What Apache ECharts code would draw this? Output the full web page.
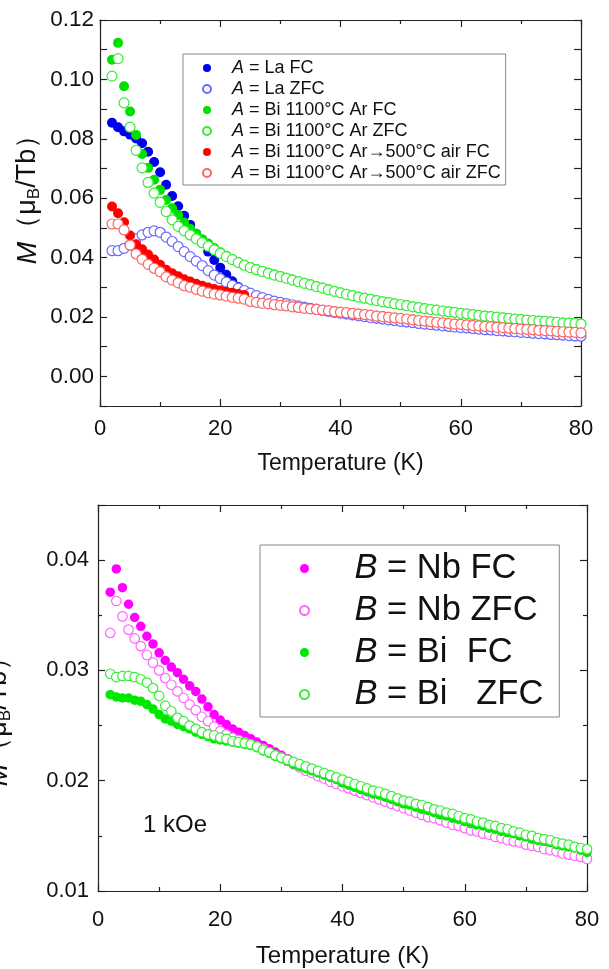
<!DOCTYPE html>
<html><head><meta charset="utf-8">
<script src="https://cdn.jsdelivr.net/npm/echarts@6/dist/echarts.min.js"></script>
<style>html,body{margin:0;padding:0;background:#fff}#c{width:609px;height:969px}</style>
</head><body><div id="c"></div>
<script>
// Temperature (K)
const temps = [2,3,4,5,6,7,8,9,10,11,12,13,14,15,16,17,18,19,20,21,22,23,24,25,26,27,28,29,30,31,32,33,34,35,36,37,38,39,40,41,42,43,44,45,46,47,48,49,50,51,52,53,54,55,56,57,58,59,60,61,62,63,64,65,66,67,68,69,70,71,72,73,74,75,76,77,78,79,80];

// Top panel: M (muB/Tb), A-site series
const laFC = [
.0854,.0839,.0825,.0814,.0801,.0785,.0756,.0722,.0687,.0645,
.0607,.0573,.0541,.0510,.0480,.0450,.0420,.0392,.0366,.0342,
.0320,.0301,.0288,.0279,.0271,.0264,.0258,.0253,.0248,.0244,
.0240,.0236,.0232,.0228,.0225,.0221,.0218,.0215,.0212,.0209,
.0206,.0203,.0200,.0197,.0195,.0192,.0190,.0187,.0185,.0182,
.0180,.0178,.0176,.0174,.0172,.0170,.0168,.0166,.0164,.0162,
.0160,.0159,.0157,.0155,.0154,.0152,.0151,.0149,.0148,.0146,
.0145,.0144,.0142,.0141,.0140,.0138,.0137,.0135,.0134];
const laZFC = [
.0423,.0423,.0431,.0442,.0463,.0476,.0485,.0490,.0485,.0469,
.0454,.0437,.0420,.0403,.0388,.0373,.0356,.0341,.0329,.0317,
.0306,.0297,.0289,.0280,.0272,.0265,.0259,.0253,.0249,.0245,
.0241,.0237,.0233,.0229,.0226,.0222,.0219,.0216,.0213,.0210,
.0207,.0204,.0201,.0198,.0196,.0193,.0190,.0188,.0185,.0183,
.0181,.0178,.0176,.0174,.0172,.0170,.0168,.0166,.0164,.0163,
.0161,.0159,.0157,.0156,.0154,.0153,.0151,.0150,.0148,.0147,
.0145,.0144,.0143,.0141,.0140,.0139,.0137,.0136,.0135];
const biArFC = [
.1066,.1123,.0977,.0892,.0813,.0749,.0702,.0662,.0628,.0594,
.0566,.0543,.0518,.0497,.0479,.0462,.0447,.0432,.0418,.0406,
.0395,.0385,.0376,.0368,.0361,.0355,.0349,.0343,.0338,.0332,
.0326,.0320,.0315,.0310,.0304,.0298,.0293,.0287,.0282,.0277,
.0273,.0268,.0264,.0260,.0256,.0252,.0249,.0245,.0242,.0239,
.0235,.0232,.0229,.0226,.0224,.0221,.0218,.0216,.0213,.0211,
.0209,.0206,.0204,.0202,.0200,.0198,.0196,.0194,.0192,.0190,
.0189,.0187,.0186,.0184,.0183,.0181,.0180,.0178,.0177];
const biArZFC = [
.1011,.1070,.0921,.0839,.0761,.0702,.0653,.0617,.0586,.0555,
.0527,.0505,.0490,.0476,.0463,.0450,.0438,.0426,.0414,.0403,
.0393,.0383,.0374,.0366,.0359,.0353,.0347,.0341,.0336,.0330,
.0324,.0319,.0313,.0308,.0302,.0297,.0291,.0286,.0281,.0276,
.0272,.0267,.0263,.0259,.0255,.0251,.0248,.0244,.0241,.0238,
.0234,.0231,.0228,.0225,.0223,.0220,.0217,.0215,.0212,.0210,
.0208,.0205,.0203,.0201,.0199,.0197,.0195,.0193,.0191,.0189,
.0188,.0186,.0185,.0183,.0182,.0180,.0179,.0178,.0176];
const biAirFC = [
.0572,.0549,.0519,.0474,.0445,.0428,.0410,.0393,.0376,.0359,
.0347,.0337,.0327,.0319,.0312,.0305,.0299,.0294,.0289,.0285,
.0281,.0277,.0274,.0252,.0249,.0247,.0244,.0242,.0240,.0237,
.0235,.0232,.0230,.0228,.0225,.0223,.0221,.0219,.0217,.0215,
.0213,.0210,.0208,.0206,.0204,.0202,.0199,.0197,.0195,.0193,
.0191,.0188,.0186,.0184,.0182,.0180,.0178,.0177,.0175,.0173,
.0172,.0170,.0169,.0167,.0166,.0164,.0163,.0161,.0160,.0158,
.0157,.0156,.0154,.0153,.0152,.0150,.0149,.0148,.0147];
const biAirZFC = [
.0513,.0513,.0493,.0442,.0412,.0394,.0377,.0364,.0352,.0335,
.0324,.0315,.0305,.0300,.0293,.0287,.0281,.0277,.0274,.0270,
.0266,.0263,.0260,.0252,.0249,.0246,.0244,.0241,.0239,.0237,
.0234,.0232,.0229,.0227,.0225,.0223,.0221,.0218,.0216,.0214,
.0212,.0210,.0208,.0206,.0203,.0201,.0199,.0197,.0195,.0193,
.0190,.0188,.0186,.0184,.0182,.0180,.0178,.0176,.0175,.0173,
.0171,.0170,.0168,.0167,.0165,.0164,.0162,.0161,.0159,.0158,
.0157,.0155,.0154,.0153,.0151,.0150,.0149,.0148,.0146];

// Bottom panel: B-site series
const nbFC = [
.0371,.0392,.0375,.0360,.0348,.0340,.0331,.0324,.0316,.0309,
.0303,.0298,.0292,.0286,.0281,.0274,.0267,.0260,.0255,.0251,
.0247,.0244,.0241,.0238,.0235,.0232,.0229,.0226,.0223,.0220,
.0217,.0214,.0211,.0208,.0205,.0203,.0200,.0198,.0196,.0194,
.0192,.0190,.0188,.0186,.0184,.0182,.0180,.0178,.0176,.0174,
.0172,.0170,.0168,.0167,.0165,.0163,.0161,.0160,.0158,.0156,
.0155,.0153,.0152,.0150,.0149,.0147,.0146,.0145,.0143,.0142,
.0141,.0139,.0138,.0137,.0135,.0134,.0133,.0132,.0130];
const nbZFC = [
.0334,.0363,.0349,.0337,.0329,.0322,.0314,.0307,.0300,.0293,
.0287,.0281,.0275,.0269,.0264,.0258,.0254,.0249,.0245,.0242,
.0239,.0237,.0235,.0233,.0231,.0229,.0226,.0223,.0221,.0218,
.0215,.0212,.0209,.0207,.0204,.0202,.0199,.0197,.0195,.0193,
.0191,.0189,.0187,.0185,.0183,.0181,.0179,.0177,.0175,.0173,
.0171,.0169,.0167,.0166,.0164,.0162,.0160,.0159,.0157,.0155,
.0154,.0152,.0151,.0149,.0148,.0146,.0145,.0144,.0142,.0141,
.0140,.0138,.0137,.0136,.0134,.0133,.0132,.0131,.0129];
const biFC = [
.0278,.0276,.0275,.0275,.0273,.0272,.0269,.0265,.0260,.0256,
.0254,.0251,.0249,.0247,.0244,.0242,.0240,.0238,.0237,.0236,
.0235,.0234,.0233,.0232,.0230,.0227,.0225,.0222,.0220,.0218,
.0215,.0213,.0211,.0209,.0207,.0205,.0203,.0201,.0198,.0196,
.0194,.0192,.0190,.0188,.0187,.0185,.0183,.0181,.0179,.0178,
.0176,.0174,.0173,.0171,.0169,.0168,.0166,.0165,.0163,.0161,
.0160,.0159,.0157,.0156,.0154,.0153,.0152,.0150,.0149,.0147,
.0146,.0145,.0144,.0142,.0141,.0140,.0139,.0137,.0135];
const biZFC = [
.0297,.0294,.0295,.0295,.0294,.0292,.0289,.0284,.0277,.0268,
.0263,.0257,.0254,.0250,.0247,.0244,.0242,.0241,.0239,.0238,
.0236,.0235,.0234,.0233,.0231,.0228,.0226,.0223,.0221,.0219,
.0217,.0215,.0213,.0211,.0209,.0207,.0205,.0203,.0201,.0199,
.0197,.0195,.0193,.0191,.0190,.0188,.0186,.0184,.0182,.0181,
.0179,.0178,.0176,.0174,.0173,.0171,.0170,.0168,.0166,.0165,
.0163,.0162,.0160,.0159,.0157,.0156,.0154,.0153,.0151,.0150,
.0148,.0147,.0146,.0144,.0143,.0142,.0140,.0139,.0138];

// Tick labels
const xTicks = [0,20,40,60,80];
const topYLabels = ['0.00','0.02','0.04','0.06','0.08','0.10','0.12'];
const botYLabels = ['0.01','0.02','0.03','0.04'];

const topNames = ['A = La FC','A = La ZFC','A = Bi 1100°C Ar FC','A = Bi 1100°C Ar ZFC','A = Bi 1100°C Ar→500°C air FC','A = Bi 1100°C Ar→500°C air ZFC'];
const botNames = ['B = Nb FC','B = Nb ZFC','B = Bi  FC','B = Bi   ZFC'];

const F = '"Liberation Sans", Arial, sans-serif';
const INK = '#111';
const chart = echarts.init(document.getElementById('c'));
const pts = arr => temps.map((t, i) => [t, arr[i]]);

const lineSt = {color: '#222', width: 1.2};
function xAx(grid, pos, showLab, margin, gap, fs) {
  return {
    type: 'value', gridIndex: grid, position: pos, min: 0, max: 80, interval: 20,
    axisLine: {show: true, onZero: false, lineStyle: lineSt},
    axisTick: {show: true, inside: true, length: 7, lineStyle: lineSt},
    minorTick: {show: true, splitNumber: 2, length: 4, lineStyle: lineSt},
    splitLine: {show: false}, minorSplitLine: {show: false},
    axisLabel: {show: showLab, fontSize: 22, fontFamily: F, color: INK, margin: margin,
      formatter: v => xTicks.indexOf(Math.round(v)) >= 0 ? String(Math.round(v)) : ''},
    name: showLab ? 'Temperature (K)' : '', nameLocation: 'middle', nameGap: gap,
    nameTextStyle: {fontSize: fs, fontFamily: F, color: INK}
  };
}
function fmtTop(v) {
  const k = Math.round(v * 100);
  if (k < 0 || k % 2 !== 0) return '';
  const s = (k / 100).toFixed(2);
  return topYLabels.indexOf(s) >= 0 ? s : '';
}
function fmtBot(v) {
  const s = (Math.round(v * 1000) / 1000).toFixed(2);
  return (Math.abs(v * 100 - Math.round(v * 100)) < 1e-6 && botYLabels.indexOf(s) >= 0) ? s : '';
}
function yTop(pos, showLab) {
  return {
    type: 'value', gridIndex: 0, position: pos, min: -0.01, max: 0.12, interval: 0.01,
    axisLine: {show: true, onZero: false, lineStyle: lineSt},
    axisTick: {show: true, inside: true, length: 7, lineStyle: lineSt},
    splitLine: {show: false},
    axisLabel: {show: showLab, fontSize: 22.5, fontFamily: F, color: INK, margin: 6, formatter: fmtTop}
  };
}
function yBot(pos, showLab) {
  return {
    type: 'value', gridIndex: 1, position: pos, min: 0.01, max: 0.045, interval: 0.01,
    axisLine: {show: true, onZero: false, lineStyle: lineSt},
    axisTick: {show: true, inside: true, length: 7, lineStyle: lineSt},
    minorTick: {show: true, splitNumber: 2, length: 4, lineStyle: lineSt},
    splitLine: {show: false}, minorSplitLine: {show: false},
    axisLabel: {show: showLab, fontSize: 22, fontFamily: F, color: INK, margin: 9,
      showMaxLabel: false, formatter: fmtBot}
  };
}
function sc(name, arr, xi, yi, color, open, size) {
  return {
    type: 'scatter', name: name, xAxisIndex: xi, yAxisIndex: yi, data: pts(arr),
    symbol: 'circle', symbolSize: size, clip: false,
    itemStyle: open ? {color: '#fff', borderColor: color, borderWidth: 1.2, opacity: 1}
                    : {color: color, borderWidth: 0, opacity: 1},
    emphasis: {disabled: true}
  };
}
const italicFirst = name => '{i|' + name[0] + '}' + name.slice(1);
const yName = '{i|M}（μ{s|B}/Tb）';
const yNameRich = {i: {fontStyle: 'italic', fontSize: 27, fontFamily: F, lineHeight: 30},
                   s: {fontSize: 17, fontFamily: F, verticalAlign: 'bottom', lineHeight: 14}};

chart.setOption({
  animation: false,
  backgroundColor: '#fff',
  grid: [
    {left: 100, top: 20, width: 481, height: 386},
    {left: 98, top: 505, width: 489, height: 396}
  ],
  xAxis: [xAx(0, 'bottom', true, 12, 46, 23), xAx(0, 'top', false, 0, 0, 23),
          xAx(1, 'bottom', true, 18, 53, 24), xAx(1, 'top', false, 0, 0, 24)],
  yAxis: [yTop('left', true), yTop('right', false), yBot('left', true), yBot('right', false)],
  legend: [
    {
      data: topNames, orient: 'vertical', left: 183, top: 54,
      padding: [5, 5, 3, 19], itemGap: 3, itemWidth: 40, itemHeight: 8,
      borderColor: '#888', borderWidth: 1, backgroundColor: '#fff',
      selectedMode: false, formatter: italicFirst,
      textStyle: {fontSize: 18, fontFamily: F, color: INK, lineHeight: 16,
        rich: {i: {fontStyle: 'italic', fontSize: 18, fontFamily: F, color: INK, lineHeight: 16}}}
    },
    {
      data: botNames, orient: 'vertical', left: 260, top: 545,
      padding: [6, 16, 5, 39], itemGap: 7, itemWidth: 70, itemHeight: 9,
      borderColor: '#888', borderWidth: 1, backgroundColor: '#fff',
      selectedMode: false,
      formatter: name => '{sp|}' + italicFirst(name),
      textStyle: {fontSize: 34.5, fontFamily: F, color: INK, lineHeight: 33,
        rich: {sp: {width: 10}, i: {fontStyle: 'italic', fontSize: 34.5, fontFamily: F, color: INK, lineHeight: 33}}}
    }
  ],
  graphic: [
    {type: 'text', x: 28, y: 193, rotation: Math.PI / 2, silent: true,
     style: {text: yName, fontSize: 27, fontFamily: F, fill: INK,
       align: 'center', verticalAlign: 'middle', rich: yNameRich}},
    {type: 'text', x: -1, y: 715, rotation: Math.PI / 2, silent: true,
     style: {text: yName, fontSize: 27, fontFamily: F, fill: INK,
       align: 'center', verticalAlign: 'middle', rich: yNameRich}},
    {type: 'text', x: 143, y: 825, silent: true,
     style: {text: '1 kOe', fontSize: 24, fontFamily: F, fill: INK, verticalAlign: 'middle'}}
  ],
  series: [
    sc(topNames[0], laFC, 0, 0, '#0000f0', false, 10),
    sc(topNames[1], laZFC, 0, 0, '#6a6aff', true, 10),
    sc(topNames[2], biArFC, 0, 0, '#00e000', false, 10),
    sc(topNames[3], biArZFC, 0, 0, '#33ee33', true, 10),
    sc(topNames[4], biAirFC, 0, 0, '#ff0000', false, 10),
    sc(topNames[5], biAirZFC, 0, 0, '#ff6464', true, 10),
    sc(botNames[0], nbFC, 2, 2, '#ff00ff', false, 9.5),
    sc(botNames[1], nbZFC, 2, 2, '#ff66ff', true, 9.5),
    sc(botNames[2], biFC, 2, 2, '#00e800', false, 9.5),
    sc(botNames[3], biZFC, 2, 2, '#33ee33', true, 9.5)
  ]
});
</script></body></html>
